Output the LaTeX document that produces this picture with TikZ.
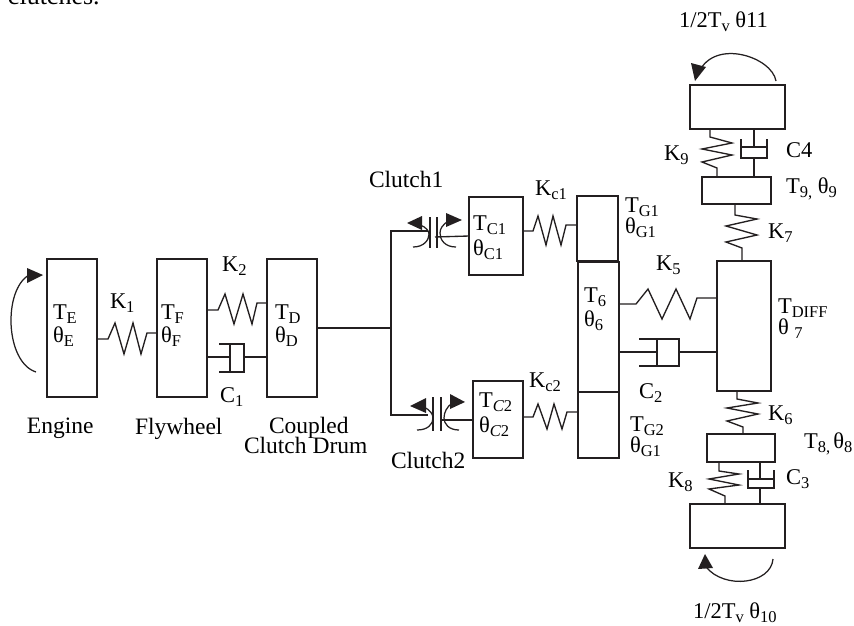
\documentclass[tikz,border=0pt]{standalone}
\usepackage{fontspec}
\setmainfont{Liberation Serif}
\newcommand\lo[1]{\raisebox{-4.5pt}{\fontsize{16.5}{16.5}\selectfont #1}}
\newcommand\bx[5]{\node[machbox,minimum width={(#4-#2)*1pt},minimum height={(#5-#3)*1pt}] (#1) at ({(#2+#4)/2},{(#3+#5)/2}) {};}
\newcommand\lb[4]{\node[lab] (#1) at (#2,#3) {#4};}
\tikzset{
  x=1pt,y=-1pt,
  machbox/.style={draw=ink,line width=1.4pt,rectangle,inner sep=0pt,outer sep=0pt,fill=none},
  conn/.style={draw=ink,line width=1.35pt,line join=miter},
  swirl/.style={draw=ink,line width=1.25pt},
  head/.style={fill=ink,draw=none},
  lab/.style={anchor=base west,inner sep=0pt,outer sep=0pt,font=\fontsize{22.5}{24}\selectfont,text=black}
}
\definecolor{ink}{HTML}{231F20}
\begin{document}
\begin{tikzpicture}
\path[use as bounding box] (0,0) rectangle (854,625);
\clip (0,0) rectangle (854,625);
\node[lab,font=\fontsize{26}{28}\selectfont] (head) at (8,4) {clutches.};
% boxes
\bx{eng}{47}{259}{97}{397}
\bx{fly}{157}{259}{207}{397}
\bx{drum}{267}{259}{317}{397}
\bx{cone}{469}{197}{523}{275}
\bx{ctwo}{473}{381}{523}{458}
\bx{gone}{577}{196}{618}{261}
\bx{six}{578}{262}{619}{392}
\bx{gtwo}{578}{392}{619}{458}
\bx{diff}{717}{261}{771}{391}
\bx{top}{690}{85}{785}{129}
\bx{nine}{702}{177}{771}{204}
\bx{eight}{707}{434}{775}{462}
\bx{bot}{690}{504}{785}{548}
\draw[conn,line width=2.2pt] (gone.south west) -- (gone.south east);
\draw[conn,line width=2.2pt] (six.south west) -- (six.south east);
% springs
\draw[conn] (eng.east |- 0,339) -- (108,339) -- (115,323) -- (124,354) -- (133,323) -- (141,354) -- (147,333) -- (fly.west |- 0,333);
\draw[conn] (fly.east |- 0,310) -- (218,310) -- (225,294) -- (234,324) -- (243,294) -- (252,324) -- (257,303) -- (drum.west |- 0,303);
\draw[conn] (cone.east |- 0,231) -- (533,231) -- (538,216) -- (546,245) -- (553,216) -- (561,245) -- (566,225) -- (gone.west |- 0,225);
\draw[conn] (ctwo.east |- 0,417) -- (533,417) -- (538,404) -- (547,429) -- (554,404) -- (562,429) -- (567,412) -- (gtwo.west |- 0,412);
\draw[conn] (six.east |- 0,304) -- (636,304) -- (648,289) -- (662,319) -- (676,289) -- (690,319) -- (697,298) -- (diff.west |- 0,298);
\draw[conn] (710,129 |- top.south) -- (710,137) -- (732,143) -- (702,149) -- (732,155) -- (702,162) -- (717,168) -- (717,177 |- nine.north);
\draw[conn] (735,0 |- nine.south) -- (735,215) -- (757,219) -- (726,226) -- (757,235) -- (726,242) -- (742,248) -- (742,0 |- diff.north);
\draw[conn] (737,0 |- diff.south) -- (737,399) -- (758,403) -- (727,408) -- (758,414) -- (727,421) -- (743,427) -- (743,0 |- eight.north);
\draw[conn] (719,0 |- eight.south) -- (719,471) -- (739,474) -- (709,479) -- (739,485) -- (709,489) -- (725,496) -- (725,0 |- bot.north);
% dampers
\draw[conn] (fly.east |- 0,357) -- (230,357);
\draw[conn] (219,344) -- (244,344) -- (244,372) -- (219,372);
\draw[conn] (230,344) -- (230,372);
\draw[conn] (244,357) -- (drum.west |- 0,357);
\draw[conn] (six.east |- 0,352) -- (657,352);
\draw[conn] (639,339) -- (679,339) -- (679,366) -- (639,366);
\draw[conn] (657,339) -- (657,366);
\draw[conn] (679,352) -- (diff.west |- 0,352);
\draw[conn] (754,0 |- top.south) -- (754,147);
\draw[conn] (741,147) -- (767,147);
\draw[conn] (741,139) -- (741,158) -- (767,158) -- (767,139);
\draw[conn] (754,158) -- (754,0 |- nine.north);
\draw[conn] (760,0 |- eight.south) -- (760,479);
\draw[conn] (748,479) -- (774,479);
\draw[conn] (748,470) -- (748,488) -- (774,488) -- (774,470);
\draw[conn] (760,488) -- (760,0 |- bot.north);
% shaft and clutches
\coordinate (forka) at (391,328);
\coordinate (forkt) at (391,231);
\coordinate (forkb) at (391,415);
\draw[conn] (drum.east |- forka) -- (forka);
\draw[conn] (428,231) -- (forkt) -- (forkb) -- (428,415);
\draw[conn] (430,217) -- (430,248);
\draw[conn] (437,217) -- (437,248);
\draw[conn] (435,237) -- (cone.west |- 0,236);
\draw[swirl] (413,247) .. controls (424,247) and (429,240) .. (429,234) .. controls (429,231) and (426,227) .. (420,225);
\draw[swirl] (456,247) .. controls (445,247) and (440,240) .. (440,233) .. controls (440,228) and (443,225) .. (448,221);
\fill[head] (407,223) -- (422,216) -- (422,230) -- cycle;
\fill[head] (462,220) -- (446,213) -- (446,227) -- cycle;
\draw[conn] (433,397) -- (433,431);
\draw[conn] (441,397) -- (441,431);
\draw[conn] (441,420) -- (ctwo.west |- 0,420);
\draw[swirl] (417,430) .. controls (428,430) and (433,424) .. (433,418) .. controls (433,414) and (430,410) .. (424,407);
\draw[swirl] (459,430) .. controls (449,430) and (444,424) .. (444,418) .. controls (444,412) and (447,407) .. (452,403);
\fill[head] (410,406) -- (426,398) -- (426,413) -- cycle;
\fill[head] (465,402) -- (450,394) -- (450,409) -- cycle;
% torque arrows
\draw[swirl] (36,372) .. controls (5,362) and (3,290) .. (29,275);
\fill[head] (43,275) -- (27,268) -- (27,283) -- cycle;
\draw[swirl] (776,81) .. controls (772,57) and (715,38) .. (699,72);
\fill[head] (695,81) -- (691,63) -- (706,67) -- cycle;
\draw[swirl] (773,559) .. controls (771,584) and (725,590) .. (706,567);
\fill[head] (705,554) -- (698,569) -- (713,568) -- cycle;
% labels
\lb{te}{53}{319}{T\lo{E}}
\lb{the}{53}{342}{θ\lo{E}}
\lb{tf}{161}{319}{T\lo{F}}
\lb{thf}{161}{342}{θ\lo{F}}
\lb{td}{275}{319}{T\lo{D}}
\lb{thd}{275}{342}{θ\lo{D}}
\lb{kone}{110}{308}{K\lo{1}}
\lb{ktwo}{222}{271}{K\lo{2}}
\lb{cone}{220}{402}{C\lo{1}}
\lb{leng}{27}{433}{\fontsize{23.5}{24}\selectfont Engine}
\lb{lfly}{135}{434}{\fontsize{23.5}{24}\selectfont Flywheel}
\lb{lcpl}{269}{433}{\fontsize{23.5}{24}\selectfont Coupled}
\lb{ldrm}{244}{453}{\fontsize{23.5}{24}\selectfont Clutch Drum}
\lb{lcl}{369}{187}{\fontsize{23.5}{24}\selectfont Clutch1}
\lb{lcm}{391}{468}{\fontsize{23.5}{24}\selectfont Clutch2}
\lb{tc}{473}{230}{T\lo{C1}}
\lb{thc}{473}{255}{θ\lo{C1}}
\lb{tcb}{479}{407}{T\lo{\itshape C\upshape 2}}
\lb{thcb}{479}{432}{θ\lo{\itshape C\upshape 2}}
\lb{kca}{535}{195}{K\lo{c1}}
\lb{kcb}{529}{387}{K\lo{c2}}
\lb{tga}{625}{212}{T\lo{G1}}
\lb{thga}{625}{233}{θ\lo{G1}}
\lb{tgb}{630}{431}{T\lo{G2}}
\lb{thgb}{630}{452}{θ\lo{G1}}
\lb{tsix}{584}{302}{T\lo{6}}
\lb{thsix}{584}{326}{θ\lo{6}}
\lb{kfive}{656}{270}{K\lo{5}}
\lb{cb}{639}{398}{C\lo{2}}
\lb{tdf}{778}{313}{T\lo{DIFF}}
\lb{thdf}{778}{334}{θ \lo{7}}
\lb{knine}{664}{160}{K\lo{9}}
\lb{cfour}{786}{157}{C4}
\lb{tnine}{786}{193}{T\lo{9,} θ\lo{9}}
\lb{kseven}{768}{238}{K\lo{7}}
\lb{ksix}{768}{420}{K\lo{6}}
\lb{teight}{804}{448}{T\lo{8,}\hspace{-2.5pt} θ\lo{8}}
\lb{keight}{668}{487}{K\lo{8}}
\lb{cthree}{786}{484}{C\lo{3}}
\lb{ttop}{679}{27}{1/2T\lo{v} θ11}
\lb{tbot}{693}{618}{1/2T\lo{v} θ\lo{10}}
\end{tikzpicture}
\end{document}
